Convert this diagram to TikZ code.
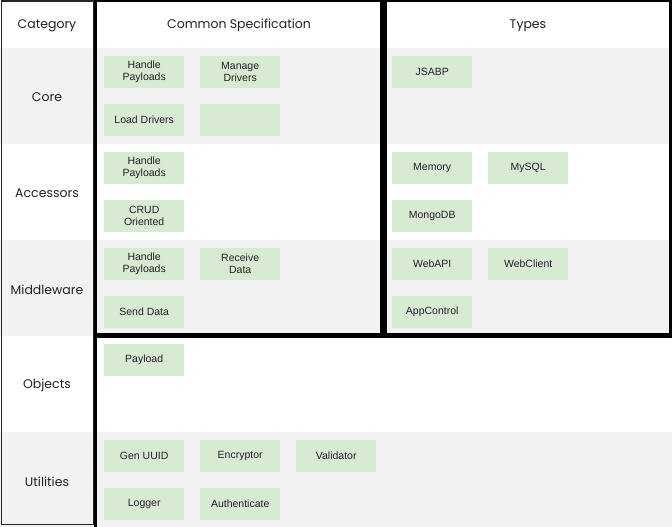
\documentclass[tikz,border=0pt]{standalone}
\usepackage{fontspec}
\setmainfont{Liberation Sans}
\newfontfamily\headfont{Poppins}
\definecolor{rowgrey}{HTML}{F2F2F2}
\definecolor{boxgreen}{HTML}{D9EAD3}
\definecolor{txt}{HTML}{222222}
\begin{document}
\begin{tikzpicture}[x=1pt,y=-1pt,
  gbox/.style={fill=boxgreen, draw=none, anchor=north west, minimum width=80pt, minimum height=32pt, inner sep=0pt, align=center, text=txt, font=\fontsize{10.5}{12}\selectfont},
  hlabel/.style={text=txt, font=\headfont\fontsize{12.5}{14}\selectfont},
  thinframe/.style={draw=black!85, line width=1.8pt},
  thickframe/.style={draw=black, line width=3.5pt}]
\useasboundingbox (0,0) rectangle (672,527);
% row backgrounds
\fill[white] (0,0) rectangle (672,527);
\fill[rowgrey] (0,48) rectangle (672,144);
\fill[rowgrey] (0,240) rectangle (672,336);
\fill[rowgrey] (0,432) rectangle (672,527);
% headers
\node[hlabel] (hcat) at (47,25.5) {Category};
\node[hlabel] (hcommon) at (239,25.5) {Common Specification};
\node[hlabel] (htypes) at (528,25.5) {Types};
% row labels
\node[hlabel] (lcore) at (47,97.5) {Core};
\node[hlabel] (lacc) at (47,193.5) {Accessors};
\node[hlabel] (lmid) at (47,289.5) {Middleware};
\node[hlabel] (lobj) at (47,385.5) {Objects};
\node[hlabel] (lutil) at (47,481.5) {Utilities};
% Core
\node[gbox] (corehp) at (104,56) {Handle\\Payloads};
\node[gbox] (coremd) at (200,56) {Manage\\Drivers};
\node[gbox] (coreld) at (104,104) {Load Drivers};
\node[gbox] (coreempty) at (200,104) {};
\node[gbox] (jsabp) at (392,56) {JSABP};
% Accessors
\node[gbox] (acchp) at (104,152) {Handle\\Payloads};
\node[gbox] (acccrud) at (104,200) {CRUD\\Oriented};
\node[gbox] (memory) at (392,152) {Memory};
\node[gbox] (mysql) at (488,152) {MySQL};
\node[gbox] (mongo) at (392,200) {MongoDB};
% Middleware
\node[gbox] (midhp) at (104,248) {Handle\\Payloads};
\node[gbox] (midrd) at (200,248) {Receive\\Data};
\node[gbox] (midsd) at (104,296) {Send Data};
\node[gbox] (webapi) at (392,248) {WebAPI};
\node[gbox] (webclient) at (488,248) {WebClient};
\node[gbox] (appctl) at (392,296) {AppControl};
% Objects
\node[gbox] (payload) at (104,344) {Payload};
% Utilities
\node[gbox] (genuuid) at (104,440) {Gen UUID};
\node[gbox] (encryptor) at (200,440) {Encryptor};
\node[gbox] (validator) at (296,440) {Validator};
\node[gbox] (logger) at (104,488) {Logger};
\node[gbox] (auth) at (200,488) {Authenticate};
% frames
\draw[thinframe] (1.5,1) rectangle (93.5,524.5);
\draw[thinframe] (93.5,1) -- (672,1);
\draw[thickframe] (95.5,0) rectangle (381.5,335);
\draw[thickframe] (385,0) rectangle (670.25,335);
\draw[thickframe] (95.5,335) -- (95.5,540) (95.5,336.5) -- (680,336.5);
\end{tikzpicture}
\end{document}
